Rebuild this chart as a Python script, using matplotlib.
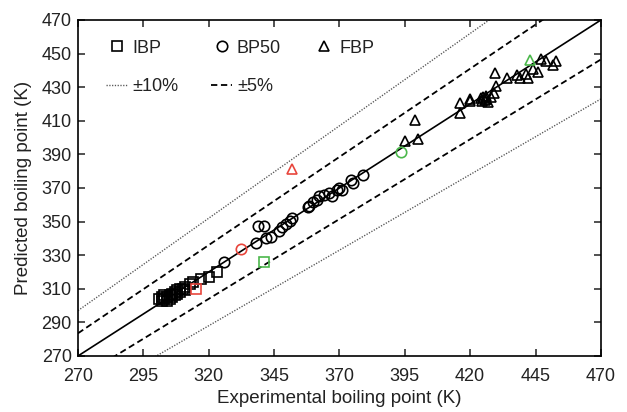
import numpy as np
import matplotlib.pyplot as plt

plt.rcParams['font.family'] = ['Liberation Sans', 'DejaVu Sans']

# IBP (squares)
ibp_exp = [301, 302, 302, 303, 303, 304, 304, 305, 305, 306, 306, 307, 307, 308, 308,
           309, 309, 310, 311, 311, 313, 314, 317, 320, 323]
ibp_pred = [304, 303, 305, 304, 306, 303, 305, 306, 304, 307, 305, 308, 306, 309, 307,
            310, 308, 310, 309, 311, 313, 314, 316, 317, 320]
# BP50 (circles)
bp50_exp = [326, 338, 339, 341, 342, 344, 347, 348, 349.5, 351, 352, 358, 358.5,
            360, 361.5, 362, 364, 366, 367, 369, 370, 371, 374.5, 375, 379]
bp50_pred = [326, 337, 347.5, 347.5, 340, 341, 344.5, 346.5, 348.5, 350.5, 352, 358.5, 359,
             361.5, 363, 365, 366, 367, 365, 369, 370, 369, 375, 373, 378]
# FBP (triangles)
fbp_exp = [395, 400, 399, 416, 416, 420, 420, 424, 424.5, 425, 425.5, 426, 426, 427, 428,
           429, 429.5, 430, 434, 438, 439, 441.5, 442, 444, 446, 447, 449, 451.5, 453]
fbp_pred = [398, 399, 410.5, 420.5, 414.5, 423, 422, 423.5, 422, 424, 422.5, 423, 425, 421, 424,
            426.5, 438.5, 430.5, 435.5, 437.5, 435.5, 438, 435.5, 441, 439, 446.5, 445.5, 443.5, 445.5]

# highlighted outliers
red_ibp = (315, 310)
red_bp50 = (332.5, 333.5)
red_fbp = (352, 381)
green_ibp = (341, 326)
green_bp50 = (393.5, 391.5)
green_fbp = (443, 446)

RED = '#e8453c'
GREEN = '#4cb84c'

fig = plt.figure(figsize=(6.27, 4.12), dpi=100)
ax = fig.add_axes([0.1244, 0.136, 0.834, 0.8155])

lims = np.array([270, 470])
ax.plot(lims, lims, '-', color='black', lw=1.2, zorder=1)
ax.plot(lims, 1.05 * lims, '--', color='black', lw=1.3, dashes=(3.5, 2), zorder=1)
ax.plot(lims, 0.95 * lims, '--', color='black', lw=1.3, dashes=(3.5, 2), zorder=1)
ax.plot(lims, 1.10 * lims, ':', color='#555555', lw=1.0, dashes=(0.9, 1.1), zorder=1)
ax.plot(lims, 0.90 * lims, ':', color='#555555', lw=1.0, dashes=(0.9, 1.1), zorder=1)

mk = dict(ms=7.5, mfc='none', mew=1.2, ls='none')
h1, = ax.plot(ibp_exp, ibp_pred, 's', mec='black', **mk)
h2, = ax.plot(bp50_exp, bp50_pred, 'o', mec='black', **mk)
h3, = ax.plot(fbp_exp, fbp_pred, '^', mec='black', **mk)
ax.plot(*red_ibp, 's', mec=RED, **mk)
ax.plot(*red_bp50, 'o', mec=RED, **mk)
ax.plot(*red_fbp, '^', mec=RED, **mk)
ax.plot(*green_ibp, 's', mec=GREEN, **mk)
ax.plot(*green_bp50, 'o', mec=GREEN, **mk)
ax.plot(*green_fbp, '^', mec=GREEN, **mk)

h4, = ax.plot([], [], ':', color='#555555', lw=1.0, dashes=(0.9, 1.1))
h5, = ax.plot([], [], '--', color='black', lw=1.3, dashes=(3.5, 2))

ax.legend([h1, h4, h2, h5, h3], ['IBP', '±10%', 'BP50', '±5%', 'FBP'],
          ncol=3, loc='upper left', bbox_to_anchor=(0.169, 0.904),
          bbox_transform=fig.transFigure,
          frameon=False, fontsize=13, borderpad=0, borderaxespad=0,
          handlelength=1.2, handletextpad=0.25, columnspacing=1.8,
          labelspacing=1.2, labelcolor='#222222')

ax.set_xlim(270, 470)
ax.set_ylim(270, 470)
ax.set_xticks(np.arange(270, 471, 25))
ax.set_yticks(np.arange(270, 471, 20))
ax.tick_params(direction='in', top=True, right=True, length=5, width=1.1,
               labelsize=13, colors='#222222')
ax.tick_params(axis='x', pad=9)
ax.tick_params(axis='y', pad=4.5)
for s in ax.spines.values():
    s.set_linewidth(1.2)
ax.set_xlabel('Experimental boiling point (K)', fontsize=13.5, color='#222222', labelpad=3)
ax.set_ylabel('Predicted boiling point (K)', fontsize=13.5, color='#222222', labelpad=7)

fig.savefig('out.png', dpi=100)
